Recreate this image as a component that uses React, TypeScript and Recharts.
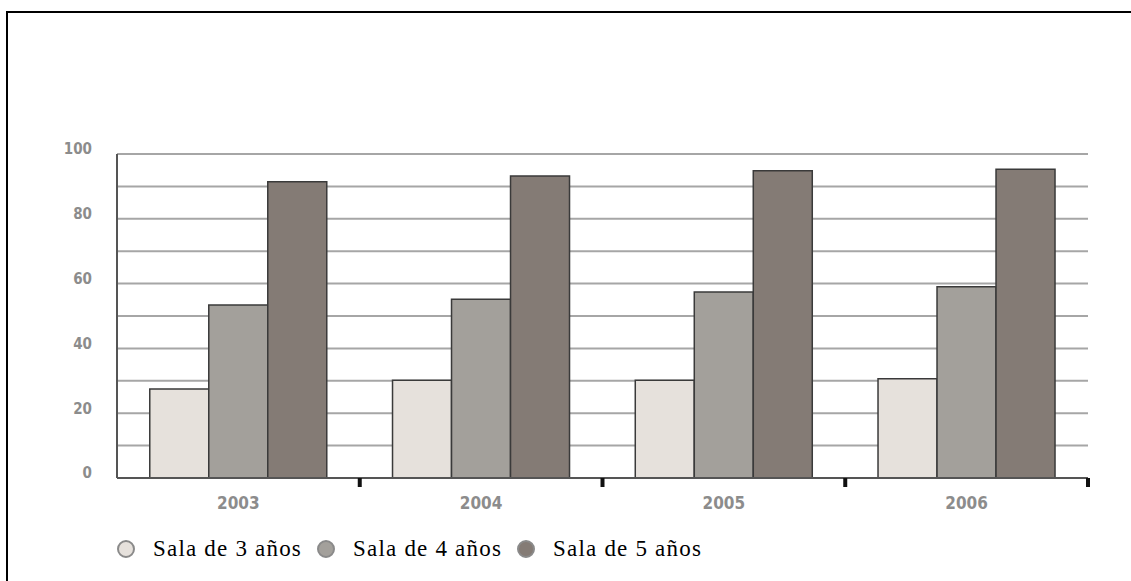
import { Bar, BarChart, CartesianGrid, XAxis, YAxis } from "recharts";

const years = ["2003", "2004", "2005", "2006"];
const sala3 = [27.5, 30.2, 30.2, 30.6];
const sala4 = [53.4, 55.2, 57.4, 59.0];
const sala5 = [91.4, 93.2, 94.8, 95.3];
const yTicks = [0, 10, 20, 30, 40, 50, 60, 70, 80, 90, 100];

const SERIES = [
  { key: "s3", name: "Sala de 3 años", fill: "#e6e1dc" },
  { key: "s4", name: "Sala de 4 años", fill: "#a3a09b" },
  { key: "s5", name: "Sala de 5 años", fill: "#847b75" },
];

const data = years.map((year, i) => ({
  year,
  s3: sala3[i],
  s4: sala4[i],
  s5: sala5[i],
}));

const axisFont = "'DejaVu Sans Condensed', 'DejaVu Sans', sans-serif";

// black tick mark at the right edge of each year band
function EdgeTick(props: any) {
  const { x, y, payload } = props;
  const half = payload && payload.offset ? payload.offset : 0;
  const bx = x + half;
  return <line x1={bx} x2={bx} y1={y} y2={y + 9} stroke="#111" strokeWidth={4} />;
}

function ChartLegend() {
  return (
    <div
      style={{
        position: "absolute",
        left: 117,
        top: 536,
        display: "flex",
        alignItems: "center",
        fontFamily: "'Liberation Serif', serif",
      }}
    >
      {SERIES.map((s) => (
        <div key={s.key} style={{ display: "flex", alignItems: "center", marginRight: 15 }}>
          <span
            style={{
              display: "inline-block",
              width: 14,
              height: 14,
              borderRadius: "50%",
              background: s.fill,
              border: "2px solid #8a8a8a",
              marginRight: 18,
            }}
          />
          <span style={{ fontSize: 23, letterSpacing: 1.2, color: "#000" }}>{s.name}</span>
        </div>
      ))}
    </div>
  );
}

export default function App() {
  return (
    <div
      style={{
        position: "absolute",
        left: 0,
        top: 0,
        width: 1131,
        height: 581,
        overflow: "hidden",
        background: "#fff",
      }}
    >
      <div style={{ position: "absolute", left: 6, top: 11, width: 1125, height: 2, background: "#000" }} />
      <div style={{ position: "absolute", left: 6, top: 11, width: 2, height: 570, background: "#000" }} />
      <div style={{ position: "absolute", left: 0, top: 0 }}>
        <BarChart
          width={1131}
          height={581}
          data={data}
          margin={{ top: 154, right: 43, bottom: 63, left: 57 }}
          barCategoryGap="13.5%"
          barGap={0}
        >
          <CartesianGrid vertical={false} stroke="#a6a6a6" strokeWidth={2} />
          <XAxis
            xAxisId="b"
            dataKey="year"
            height={39}
            axisLine={false}
            tickLine={false}
            tickSize={0}
            tickMargin={18}
            tick={{ fill: "#8c8c8c", fontSize: 17, fontWeight: "bold", fontFamily: axisFont }}
          />
          <XAxis
            xAxisId="a"
            dataKey="year"
            interval={0}
            height={1}
            tickLine={false}
            tickSize={0}
            tickMargin={0}
            tick={<EdgeTick />}
            axisLine={{ stroke: "#555", strokeWidth: 2 }}
          />
          <YAxis
            width={60}
            domain={[0, 100]}
            ticks={yTicks}
            interval={0}
            tickFormatter={(v: number) => (v % 20 === 0 ? String(v) : "")}
            axisLine={{ stroke: "#555", strokeWidth: 2 }}
            tickLine={false}
            tickSize={0}
            tickMargin={25}
            tick={{ fill: "#8c8c8c", fontSize: 15, fontWeight: "bold", fontFamily: axisFont, dy: -5 }}
          />
          {SERIES.map((s) => (
            <Bar
              key={s.key}
              xAxisId="b"
              dataKey={s.key}
              name={s.name}
              fill={s.fill}
              stroke="#3a3a3a"
              strokeWidth={1.5}
              isAnimationActive={false}
            />
          ))}
        </BarChart>
      </div>
      <ChartLegend />
    </div>
  );
}
